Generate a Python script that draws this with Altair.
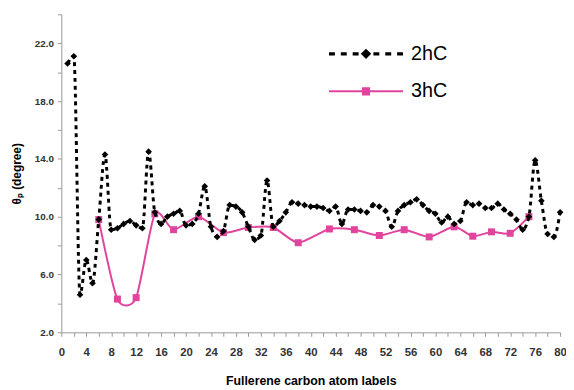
import altair as alt
import pandas as pd

atoms_2hc = list(range(1, 81))
theta_2hc = [20.6, 21.1, 4.6, 7.0, 5.4, 9.8, 14.3, 9.1, 9.2, 9.5,
             9.7, 9.4, 9.2, 14.5, 10.3, 9.5, 10.0, 10.2, 10.4, 9.4,
             9.5, 10.2, 12.1, 9.3, 8.6, 9.0, 10.8, 10.7, 10.3, 9.3,
             8.4, 8.7, 12.5, 9.3, 9.7, 10.3, 11.0, 10.9, 10.8, 10.7,
             10.7, 10.6, 10.4, 10.7, 9.5, 10.5, 10.5, 10.4, 10.3, 10.8,
             10.7, 10.4, 9.3, 10.4, 10.8, 11.0, 11.2, 10.8, 10.4, 10.2,
             9.6, 10.0, 9.5, 9.7, 11.0, 10.8, 10.9, 10.6, 10.6, 10.9,
             10.5, 10.2, 9.8, 9.1, 10.0, 13.9, 11.1, 8.8, 8.6, 10.3]

atoms_3hc = [6, 9, 12, 15, 18, 22, 26, 30, 34, 38, 43, 47, 51, 55, 59, 63, 66, 69, 72, 75]
theta_3hc = [9.8, 4.3, 4.4, 10.2, 9.1, 10.0, 8.9, 9.25, 9.25, 8.2,
             9.15, 9.1, 8.7, 9.1, 8.6, 9.3, 8.65, 8.95, 8.85, 10.0]

series_names = ["2hC", "3hC"]
series_colors = ["#000000", "#E0449C"]

df = pd.concat([
    pd.DataFrame({"atom": atoms_2hc, "theta": theta_2hc, "series": "2hC"}),
    pd.DataFrame({"atom": atoms_3hc, "theta": theta_3hc, "series": "3hC"}),
], ignore_index=True)

FONT = "Liberation Sans"

# legend glyphs: dashed line with diamond / solid line with square (unit-square path coords)
PATH_2HC = ("M-1,-0.043H-0.84V0.043H-1Z M-0.68,-0.043H-0.52V0.043H-0.68Z "
            "M-0.36,-0.043H-0.2V0.043H-0.36Z M0,-0.14L0.14,0L0,0.14L-0.14,0Z "
            "M0.2,-0.043H0.36V0.043H0.2Z M0.52,-0.043H0.68V0.043H0.52Z "
            "M0.84,-0.043H1V0.043H0.84Z")
PATH_3HC = "M-1,-0.027H1V0.027H-1Z M-0.11,-0.11H0.11V0.11H-0.11Z"

legend = alt.Legend(
    title=None, orient="none", legendX=271, legendY=31, padding=0,
    symbolSize=5625, clipHeight=18, rowPadding=18, labelOffset=8,
    symbolOpacity=1, symbolStrokeWidth=0,
    labelFont=FONT, labelFontSize=20, labelColor="#000000",
)

x_enc = alt.X(
    "atom:Q",
    scale=alt.Scale(domain=[0, 80], nice=False, zero=False),
    axis=alt.Axis(
        values=list(range(0, 81, 2)),
        labelExpr="datum.value % 4 == 0 ? datum.label : ''",
        labelOverlap=False, labelFlush=False, grid=False,
        title="Fullerene carbon atom labels",
        titleFont=FONT, titleFontSize=12.5, titleFontWeight="bold", titleColor="#000000",
        titlePadding=17,
        labelFont=FONT, labelFontSize=11.5, labelFontWeight="bold", labelColor="#333333",
        labelPadding=10, tickSize=4, tickColor="#999999", domainColor="#999999",
    ),
)
y_enc = alt.Y(
    "theta:Q",
    scale=alt.Scale(domain=[2, 24], nice=False, zero=False),
    axis=alt.Axis(
        values=list(range(2, 25, 2)),
        labelExpr="(datum.value - 2) % 4 == 0 ? format(datum.value, '.1f') : ''",
        labelOverlap=False, labelFlush=False, grid=False,
        title="θₚ (degree)",
        titleFont=FONT, titleFontSize=12, titleFontWeight="bold", titleColor="#000000",
        titlePadding=11,
        labelFont=FONT, labelFontSize=10, labelFontWeight="bold", labelColor="#333333",
        labelPadding=4, tickSize=4, tickColor="#999999", domainColor="#999999",
    ),
)

base = alt.Chart(df).encode(x=x_enc, y=y_enc)

line2 = base.transform_filter(alt.datum.series == "2hC").mark_line(
    strokeWidth=3, strokeDash=[4, 4], interpolate="monotone", color="#000000"
)
pts2 = base.transform_filter(alt.datum.series == "2hC").mark_point(
    shape="diamond", filled=True, size=45, color="#000000", opacity=1
)
line3 = base.transform_filter(alt.datum.series == "3hC").mark_line(
    strokeWidth=2, interpolate="cardinal", tension=0.3, color="#E0449C"
)
pts3 = base.transform_filter(alt.datum.series == "3hC").mark_point(
    shape="square", filled=True, size=50, color="#E0449C", opacity=1
)
legend_layer = base.mark_point(filled=True, opacity=0).encode(
    color=alt.Color("series:N", scale=alt.Scale(domain=series_names, range=series_colors), legend=legend),
    shape=alt.Shape("series:N", scale=alt.Scale(domain=series_names, range=[PATH_2HC, PATH_3HC]), legend=legend),
)

chart = alt.layer(line3, pts3, line2, pts2, legend_layer).properties(
    width=505, height=322,
    autosize="none",
    padding={"left": 54, "top": 4, "right": 6, "bottom": 56},
    background="#ffffff",
).configure_view(stroke=None)

chart.save("out.html", embed_options={"renderer": "svg", "actions": False})
